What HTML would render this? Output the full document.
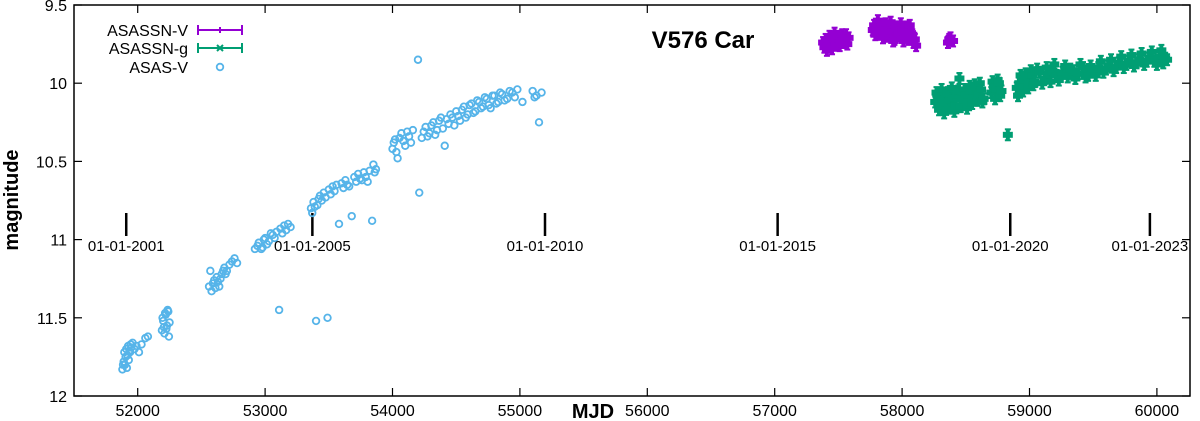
<!DOCTYPE html>
<html><head><meta charset="utf-8"><style>
html,body{margin:0;padding:0;background:#fff;}
svg{display:block;font-family:"Liberation Sans",Arial,sans-serif;}
</style></head><body>
<svg id="chart" width="1200" height="421" viewBox="0 0 1200 421" xmlns="http://www.w3.org/2000/svg">
<g id="frame"></g><g id="marks"></g><g id="labels"></g>
</svg>
<script>
const xTicks=[52000,53000,54000,55000,56000,57000,58000,59000,60000];
const yTicks=[9.5,10,10.5,11,11.5,12];
const dateLabels=["01-01-2001","01-01-2005","01-01-2010","01-01-2015","01-01-2020","01-01-2023"];
const dateMJD=[51910,53371,55197,57023,58849,59945];
const asasMJD=[51880,51885,51890,51895,51900,51905,51910,51915,51920,51925,51930,51935,51940,51945,51950,51960,51975,51990,52010,52030,52060,52080,52190,52195,52200,52205,52210,52215,52220,52225,52230,52235,52240,52245,52250,52560,52570,52580,52590,52600,52610,52620,52630,52640,52650,52660,52670,52680,52690,52700,52720,52740,52760,52780,52920,52940,52950,52970,52980,52990,53000,53015,53030,53045,53060,53075,53090,53110,53120,53135,53150,53165,53180,53200,53360,53370,53380,53390,53400,53410,53420,53430,53445,53460,53475,53490,53500,53515,53530,53545,53560,53580,53600,53615,53630,53645,53660,53680,53700,53715,53730,53745,53760,53775,53790,53805,53820,53840,53850,53860,53870,54000,54010,54020,54030,54040,54055,54070,54085,54100,54115,54130,54145,54160,54200,54210,54230,54245,54260,54275,54290,54305,54320,54335,54350,54365,54380,54395,54410,54425,54440,54455,54470,54485,54500,54515,54530,54545,54560,54575,54590,54605,54620,54635,54650,54665,54680,54695,54710,54725,54740,54755,54770,54785,54800,54815,54830,54845,54860,54880,54900,54920,54940,54960,54980,55020,55100,55115,55130,55150,55170];
const asasMag=[11.83,11.80,11.78,11.72,11.80,11.75,11.70,11.82,11.74,11.68,11.77,11.71,11.72,11.67,11.69,11.66,11.70,11.68,11.72,11.67,11.63,11.62,11.58,11.50,11.52,11.56,11.60,11.47,11.48,11.57,11.55,11.45,11.46,11.62,11.53,11.30,11.20,11.33,11.28,11.26,11.31,11.24,11.27,11.30,11.25,11.22,11.20,11.18,11.22,11.20,11.16,11.14,11.12,11.15,11.06,11.04,11.02,11.06,11.05,11.00,10.99,11.03,11.01,10.96,10.97,10.99,10.95,11.45,10.93,10.96,10.91,10.94,10.90,10.92,10.80,10.83,10.76,10.79,11.52,10.78,10.74,10.72,10.75,10.70,10.73,11.50,10.68,10.71,10.66,10.69,10.65,10.90,10.64,10.67,10.62,10.65,10.66,10.85,10.60,10.63,10.58,10.61,10.62,10.57,10.60,10.63,10.56,10.88,10.52,10.57,10.55,10.42,10.38,10.36,10.44,10.48,10.35,10.32,10.37,10.40,10.31,10.34,10.38,10.30,9.85,10.70,10.35,10.31,10.28,10.34,10.32,10.27,10.25,10.33,10.30,10.24,10.22,10.29,10.40,10.23,10.26,10.20,10.22,10.27,10.18,10.21,10.24,10.17,10.15,10.22,10.20,10.14,10.13,10.19,10.18,10.11,10.12,10.16,10.15,10.09,10.10,10.14,10.16,10.08,10.08,10.13,10.12,10.06,10.07,10.11,10.10,10.05,10.06,10.09,10.04,10.12,10.05,10.09,10.08,10.25,10.06];
const snVMJD=[57380,57390,57400,57410,57420,57430,57440,57450,57460,57470,57480,57490,57500,57510,57520,57530,57540,57550,57560,57570,57580,57770,57780,57790,57800,57810,57820,57830,57840,57850,57860,57870,57880,57890,57900,57910,57920,57930,57940,57950,57960,57970,57980,57990,58000,58010,58020,58030,58040,58050,58060,58070,58080,58090,58100,58110,58360,58370,58380,58400];
const snVMag=[9.74,9.77,9.72,9.79,9.76,9.70,9.73,9.78,9.71,9.68,9.75,9.72,9.70,9.76,9.73,9.69,9.74,9.71,9.69,9.75,9.71,9.66,9.63,9.69,9.64,9.60,9.68,9.65,9.63,9.71,9.66,9.62,9.70,9.67,9.65,9.61,9.67,9.73,9.72,9.64,9.64,9.69,9.68,9.62,9.66,9.73,9.70,9.64,9.67,9.72,9.63,9.68,9.69,9.74,9.72,9.76,9.74,9.72,9.71,9.73];
const snGMJD=[58260,58270,58280,58290,58300,58310,58320,58330,58340,58350,58360,58370,58380,58390,58400,58410,58420,58430,58440,58450,58460,58470,58480,58490,58500,58510,58520,58530,58540,58550,58560,58570,58580,58590,58600,58610,58620,58630,58640,58700,58710,58720,58730,58740,58750,58760,58770,58780,58830,58900,58910,58920,58930,58940,58950,58960,58970,58980,58990,59000,59010,59020,59030,59040,59060,59080,59100,59120,59135,59150,59165,59180,59195,59210,59230,59260,59280,59300,59320,59340,59360,59380,59400,59420,59440,59460,59480,59500,59520,59540,59560,59580,59600,59620,59640,59660,59680,59700,59720,59740,59760,59780,59800,59820,59840,59860,59880,59900,59920,59940,59960,59980,60000,60020,60035,60050,60065,60080];
const snGMag=[10.12,10.06,10.08,10.17,10.15,10.04,10.10,10.19,10.13,10.07,10.06,10.16,10.11,10.03,10.09,10.18,10.14,10.08,10.05,9.97,10.15,10.10,10.10,10.04,10.07,10.16,10.12,10.02,10.05,10.13,10.09,10.01,10.03,10.11,10.07,10.00,10.04,10.12,10.10,10.06,9.99,10.02,10.10,10.04,9.98,10.00,10.08,10.05,10.33,10.03,10.08,10.00,9.95,9.98,10.05,10.02,9.94,9.96,10.03,9.99,9.92,9.95,10.01,9.99,9.91,9.93,10.00,9.97,9.90,9.94,9.99,9.92,9.88,9.95,9.98,9.93,9.89,9.96,9.91,9.92,9.97,9.94,9.88,9.90,9.96,9.95,9.89,9.93,9.95,9.90,9.86,9.93,9.91,9.89,9.85,9.92,9.90,9.87,9.83,9.90,9.88,9.86,9.82,9.89,9.87,9.85,9.81,9.88,9.86,9.84,9.80,9.86,9.88,9.83,9.79,9.87,9.84,9.85];

const L=74,R=1190,T=5,B=396;
const X=m=>L+(m-51500)*0.1274;
const Y=v=>T+(v-9.5)/2.5*(B-T);
const NS="http://www.w3.org/2000/svg";
function mk(tag,parent,attrs){const e=document.createElementNS(NS,tag);for(const k in attrs)e.setAttribute(k,attrs[k]);parent.appendChild(e);return e;}
const frame=document.getElementById('frame'),marks=document.getElementById('marks'),labels=document.getElementById('labels');

let r=mk('rect',frame,{x:L,y:T,width:R-L,height:B-T,fill:'none',stroke:'#000','stroke-width':1.5});


xTicks.forEach(t=>{
  let a=mk('line',frame,{x1:X(t),x2:X(t),y1:B,y2:B-8,stroke:'#000','stroke-width':1.2});
  
  
  mk('line',frame,{x1:X(t),x2:X(t),y1:T,y2:T+8,stroke:'#000','stroke-width':1.2});
  let tx=mk('text',labels,{x:X(t),y:416,'font-size':16,'text-anchor':'middle'});tx.textContent=t;
  
  
});
yTicks.forEach(t=>{
  let a=mk('line',frame,{x1:L,x2:L+8,y1:Y(t),y2:Y(t),stroke:'#000','stroke-width':1.2});
  
  
  mk('line',frame,{x1:R,x2:R-8,y1:Y(t),y2:Y(t),stroke:'#000','stroke-width':1.2});
  let tx=mk('text',labels,{x:L-7,y:Y(t)+6,'font-size':16,'text-anchor':'end'});tx.textContent=t;
  
  
});
dateMJD.forEach((d,i)=>{
  let a=mk('line',frame,{x1:X(d),x2:X(d),y1:213,y2:236,stroke:'#000','stroke-width':2.5});
  
  
  let tx=mk('text',labels,{x:X(d),y:251,'font-size':15,'text-anchor':'middle'});tx.textContent=dateLabels[i];
  
  
});
asasMJD.forEach((m,i)=>{
  let c=mk('circle',marks,{cx:X(m),cy:Y(asasMag[i]),r:3.3,fill:'none',stroke:'#56b4e9','stroke-width':1.8});
  
  
});
function ebar(m,v,col,cls){
  const x=X(m),y1=Y(v-0.035),y2=Y(v+0.035);
  let g=mk('g',marks,{stroke:col,'stroke-width':4});
  
  
  mk('line',g,{x1:x,x2:x,y1:y1,y2:y2});
  mk('line',g,{x1:x-3,x2:x+3,y1:y1,y2:y1,'stroke-width':2});
  mk('line',g,{x1:x-3,x2:x+3,y1:y2,y2:y2,'stroke-width':2});
  mk('line',g,{x1:x-5,x2:x+5,y1:Y(v),y2:Y(v),'stroke-width':6});
}
snVMJD.forEach((m,i)=>ebar(m,snVMag[i],'#9400d3','asassn-v-point'));
snGMJD.forEach((m,i)=>ebar(m,snGMag[i],'#009e73','asassn-g-point'));

const lg=mk('g',labels,{});


const leg=[["ASASSN-V",'#9400d3',30],["ASASSN-g",'#009e73',48],["ASAS-V",'#56b4e9',67]];
leg.forEach((e,i)=>{
  let t=mk('text',lg,{x:188,y:e[2]+6,'font-size':16,'text-anchor':'end'});t.textContent=e[0];
  
  
  if(i<2){
    mk('line',lg,{x1:198,x2:242,y1:e[2],y2:e[2],stroke:e[1],'stroke-width':2});
    mk('line',lg,{x1:198,x2:198,y1:e[2]-5,y2:e[2]+5,stroke:e[1],'stroke-width':2});
    mk('line',lg,{x1:242,x2:242,y1:e[2]-5,y2:e[2]+5,stroke:e[1],'stroke-width':2});
    if(i==1){mk('path',lg,{d:`M217,${e[2]-3}l6,6M223,${e[2]-3}l-6,6`,stroke:e[1],'stroke-width':2});}
    else mk('line',lg,{x1:220,x2:220,y1:e[2]-3,y2:e[2]+3,stroke:e[1],'stroke-width':2});
  } else mk('circle',lg,{cx:220,cy:e[2],r:3.3,fill:'none',stroke:e[1],'stroke-width':1.8});
});
let tt=mk('text',labels,{x:703,y:48,'font-size':24,'font-weight':'bold','text-anchor':'middle'});tt.textContent="V576 Car";


let xl=mk('text',labels,{x:593,y:418,'font-size':20,'font-weight':'bold','text-anchor':'middle'});xl.textContent="MJD";


let yl=mk('text',labels,{x:18,y:200,'font-size':20,'font-weight':'bold','text-anchor':'middle',transform:'rotate(-90 18 200)'});yl.textContent="magnitude";


</script>
</body></html>
